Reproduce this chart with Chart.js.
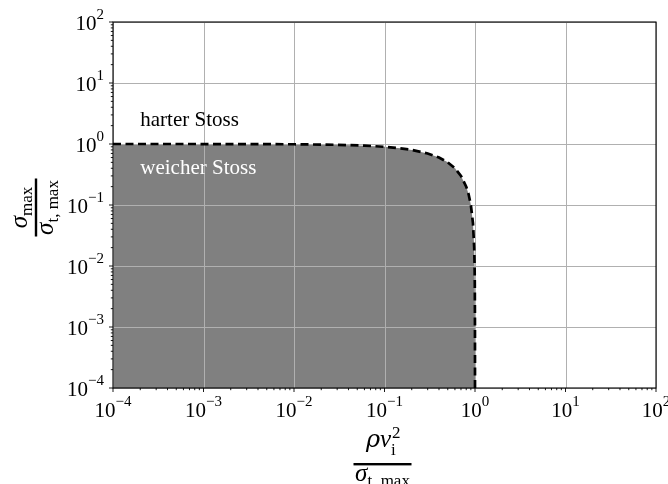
<!DOCTYPE html>
<html>
<head>
<meta charset="utf-8">
<script src="https://cdn.jsdelivr.net/npm/chart.js@4.4.0/dist/chart.umd.min.js"></script>
<style>
  body { margin: 0; background: #fff; }
  #wrap { width: 668px; height: 484px; }
</style>
</head>
<body>
<div id="wrap"><canvas id="chart"></canvas></div>
<script>
// boundary between soft and hard impact
var loadRatio = [1e-4, 1e-3, 1e-2, 0.03, 0.06, 0.1, 0.15, 0.2, 0.3, 0.4, 0.5, 0.6, 0.7, 0.8, 0.85, 0.9, 0.95, 0.98, 0.99, 0.995, 0.999, 0.9999];
var stressRatio = [1, 0.999, 0.99, 0.97, 0.94, 0.9, 0.85, 0.8, 0.7, 0.6, 0.5, 0.4, 0.3, 0.2, 0.15, 0.1, 0.05, 0.02, 0.01, 0.005, 0.001, 0.0001];
var decadeExps = [-4, -3, -2, -1, 0, 1, 2];
var regionLabels = ["harter Stoss", "weicher Stoss"];

var serif = '"Liberation Serif", "Times New Roman", serif';

function points() {
    var pts = [];
    for (var i = 0; i < loadRatio.length; i++) {
        pts.push({x: loadRatio[i], y: stressRatio[i]});
    }
    return pts;
}

function expText(e) {
    return e < 0 ? '\u2212' + (-e) : '' + e;
}

// "10" with a raised exponent
function drawPow(ctx, e, x, y, align) {
    ctx.font = '21px ' + serif;
    var w1 = ctx.measureText('10').width;
    ctx.font = '15px ' + serif;
    var w2 = ctx.measureText(expText(e)).width;
    var start = align === 'center' ? x - (w1 + w2) / 2 : x - (w1 + w2);
    ctx.textAlign = 'left';
    ctx.textBaseline = 'alphabetic';
    ctx.font = '21px ' + serif;
    ctx.fillText('10', start, y);
    ctx.font = '15px ' + serif;
    ctx.fillText(expText(e), start + w1, y - 11);
}

var gridPlugin = {
    id: 'gridAbove',
    beforeDatasetsDraw: function(chart) {
        var ctx = chart.ctx, a = chart.chartArea;
        var xs = chart.scales.x, ys = chart.scales.y;
        ctx.save();
        ctx.strokeStyle = '#b0b0b0';
        ctx.lineWidth = 1;
        decadeExps.forEach(function(e) {
            var px = Math.round(xs.getPixelForValue(Math.pow(10, e))) + 0.5;
            var py = Math.round(ys.getPixelForValue(Math.pow(10, e))) + 0.5;
            ctx.beginPath();
            ctx.moveTo(px, a.top); ctx.lineTo(px, a.bottom);
            ctx.moveTo(a.left, py); ctx.lineTo(a.right, py);
            ctx.stroke();
        });
        ctx.restore();
    }
};

var framePlugin = {
    id: 'frameAndLabels',
    afterDraw: function(chart) {
        var ctx = chart.ctx, a = chart.chartArea;
        var xs = chart.scales.x, ys = chart.scales.y;
        ctx.save();

        // region labels
        ctx.font = '21px ' + serif;
        ctx.textAlign = 'left';
        ctx.fillStyle = '#000';
        ctx.fillText(regionLabels[0], xs.getPixelForValue(2e-4), ys.getPixelForValue(2));
        ctx.fillStyle = '#fff';
        ctx.fillText(regionLabels[1], xs.getPixelForValue(2e-4), ys.getPixelForValue(0.32));

        // frame
        ctx.strokeStyle = '#000';
        ctx.lineWidth = 1.1;
        ctx.strokeRect(a.left, a.top, a.right - a.left, a.bottom - a.top);

        // ticks
        ctx.lineWidth = 0.9;
        ctx.beginPath();
        decadeExps.forEach(function(e, i) {
            for (var m = 1; m < 10; m++) {
                if (m > 1 && i === decadeExps.length - 1) break;
                var v = m * Math.pow(10, e);
                var len = m === 1 ? 4 : 2.2;
                var px = xs.getPixelForValue(v);
                var py = ys.getPixelForValue(v);
                ctx.moveTo(px, a.bottom); ctx.lineTo(px, a.bottom + len);
                ctx.moveTo(a.left, py); ctx.lineTo(a.left - len, py);
            }
        });
        ctx.stroke();

        // tick labels
        ctx.fillStyle = '#000';
        decadeExps.forEach(function(e) {
            var v = Math.pow(10, e);
            drawPow(ctx, e, xs.getPixelForValue(v), 417, 'center');
            drawPow(ctx, e, 104, ys.getPixelForValue(v) + 8, 'right');
        });

        // x title: rho v_i^2 / sigma_t,max
        var cx = (a.left + a.right) / 2 - 2;
        ctx.fillRect(cx - 29, 463, 58, 2.4);
        ctx.font = 'italic 24px "DejaVu Serif", ' + serif;
        var wrho = ctx.measureText('\u03c1').width;
        ctx.font = 'italic 25px ' + serif;
        var wv = ctx.measureText('v').width;
        var nx = cx - (wrho + wv + 8) / 2;
        ctx.font = 'italic 24px "DejaVu Serif", ' + serif;
        ctx.fillText('\u03c1', nx, 447);
        ctx.font = 'italic 25px ' + serif;
        ctx.fillText('v', nx + wrho, 447);
        ctx.font = '17px ' + serif;
        ctx.fillText('2', nx + wrho + wv + 1, 438);
        ctx.fillText('i', nx + wrho + wv, 455);
        ctx.font = 'italic 25px ' + serif;
        var ws = ctx.measureText('\u03c3').width;
        ctx.font = '17px ' + serif;
        var wt = ctx.measureText('t, max').width;
        var dx = cx - (ws + wt) / 2;
        ctx.font = 'italic 25px ' + serif;
        ctx.fillText('\u03c3', dx, 481);
        ctx.font = '17px ' + serif;
        ctx.fillText('t, max', dx + ws, 486);

        // y title: sigma_max / sigma_t,max (rotated)
        ctx.translate(36, 207.5);
        ctx.rotate(-Math.PI / 2);
        ctx.fillRect(-29, -1.2, 58, 2.4);
        ctx.font = '17px ' + serif;
        var wm = ctx.measureText('max').width;
        var nx2 = -(ws + wm) / 2;
        ctx.font = 'italic 25px ' + serif;
        ctx.fillText('\u03c3', nx2, -9);
        ctx.font = '17px ' + serif;
        ctx.fillText('max', nx2 + ws, -4);
        ctx.font = 'italic 25px ' + serif;
        ctx.fillText('\u03c3', -(ws + wt) / 2, 17);
        ctx.font = '17px ' + serif;
        ctx.fillText('t, max', -(ws + wt) / 2 + ws, 22);

        ctx.restore();
    }
};

new Chart(document.getElementById('chart'), {
    type: 'line',
    data: {
        datasets: [{
            data: points(),
            borderColor: '#000',
            borderWidth: 2.7,
            borderDash: [8, 4.5],
            backgroundColor: '#808080',
            fill: 'start',
            pointRadius: 0,
            tension: 0
        }]
    },
    options: {
        responsive: true,
        maintainAspectRatio: false,
        animation: false,
        layout: {padding: {left: 113, right: 12, top: 22, bottom: 96}},
        plugins: {
            legend: {display: false},
            tooltip: {enabled: false},
            filler: {drawTime: 'beforeDatasetsDraw'}
        },
        scales: {
            x: {
                type: 'logarithmic', min: 1e-4, max: 100,
                ticks: {display: false},
                grid: {display: false, drawTicks: false},
                border: {display: false}
            },
            y: {
                type: 'logarithmic', min: 1e-4, max: 100,
                ticks: {display: false},
                grid: {display: false, drawTicks: false},
                border: {display: false}
            }
        }
    },
    plugins: [gridPlugin, framePlugin]
});
</script>
</body>
</html>
